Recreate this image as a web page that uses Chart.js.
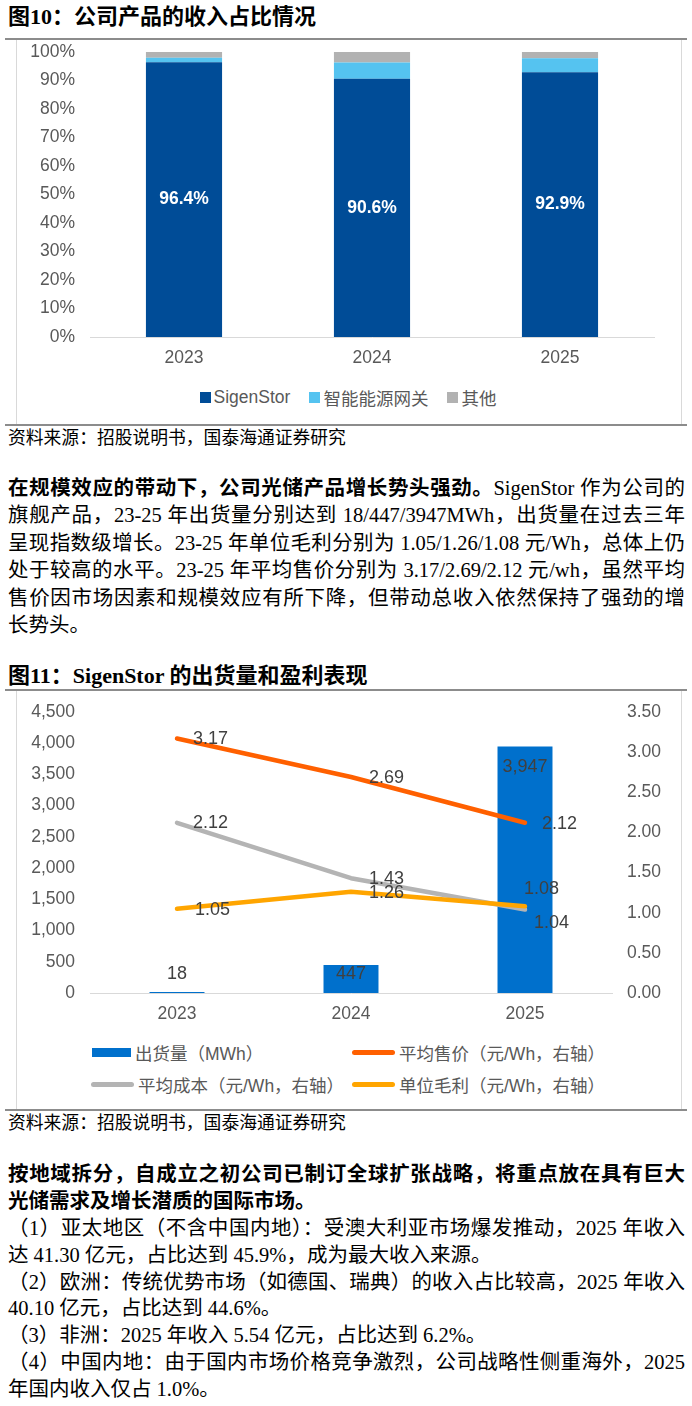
<!DOCTYPE html>
<html>
<head>
<meta charset="utf-8">
<script src="https://cdn.jsdelivr.net/npm/chart.js@4.4.0/dist/chart.umd.min.js"></script>
<style>
  body { margin: 0; background: #fff; width: 692px; height: 1406px; position: relative; overflow: hidden;
         font-family: "Liberation Serif", "Noto Sans CJK SC", serif; color: #000; }
  .abs { position: absolute; }
  .title { left: 8px; font-weight: bold; font-size: 22px; line-height: 24px; white-space: nowrap; }
  .hr { left: 5px; width: 682px; height: 2px; background: #8c8c8c; }
  .side { width: 1px; background: #d9d9d9; }
  .src { left: 8px; font-size: 17.8px; line-height: 20px; white-space: nowrap; }
  .para { left: 8px; width: 677px; }
  .para div { font-size: 20.5px; white-space: nowrap; text-align: justify; text-align-last: justify; }
  .para div.last { text-align: left; text-align-last: left; }
  .para1 div { height: 27.4px; line-height: 27.4px; }
  .para2 div { height: 26.9px; line-height: 26.9px; }
  .legend { font-family: "Liberation Sans", "Noto Sans CJK SC", sans-serif; font-size: 17.5px; color: #595959; }
  .lg1 { left: 16px; width: 664px; top: 386px; height: 22px; display: flex; justify-content: center; align-items: center; }
  .lg1 .box { width: 11px; height: 11px; margin-right: 3px; }
  .lg1 .txt { margin-right: 19px; }
  .lg2 { display: flex; align-items: center; height: 22px; }
  .lg2 .sym { margin-right: 4px; }
</style>
</head>
<body>

<div class="abs title" style="top:5px">图10：公司产品的收入占比情况</div>
<div class="abs hr" style="top:38px"></div>
<div class="abs side" style="left:16px;top:40px;height:385px"></div>
<div class="abs side" style="left:681px;top:40px;height:385px"></div>
<canvas id="shareChart" class="abs" style="left:16px;top:41px" width="665" height="331"></canvas>
<div class="abs legend lg1">
  <span class="box" style="background:#004C97"></span><span class="txt">SigenStor</span>
  <span class="box" style="background:#55C3F0"></span><span class="txt">智能能源网关</span>
  <span class="box" style="background:#B2B2B2"></span><span class="txt" style="margin-right:0">其他</span>
</div>
<div class="abs hr" style="top:424px"></div>
<div class="abs src" style="top:428px">资料来源：招股说明书，国泰海通证券研究</div>

<div class="abs para para1" style="top:475px">
  <div><b>在规模效应的带动下，公司光储产品增长势头强劲。</b>SigenStor 作为公司的</div>
  <div>旗舰产品，23-25 年出货量分别达到 18/447/3947MWh，出货量在过去三年</div>
  <div>呈现指数级增长。23-25 年单位毛利分别为 1.05/1.26/1.08 元/Wh，总体上仍</div>
  <div>处于较高的水平。23-25 年平均售价分别为 3.17/2.69/2.12 元/wh，虽然平均</div>
  <div>售价因市场因素和规模效应有所下降，但带动总收入依然保持了强劲的增</div>
  <div class="last">长势头。</div>
</div>

<div class="abs title" style="top:664px">图11：SigenStor 的出货量和盈利表现</div>
<div class="abs hr" style="top:689px"></div>
<div class="abs side" style="left:16px;top:691px;height:419px"></div>
<div class="abs side" style="left:681px;top:691px;height:419px"></div>
<canvas id="shipChart" class="abs" style="left:16px;top:691px" width="665" height="337"></canvas>
<div class="abs legend lg2" style="left:92px;top:1041px">
  <span class="sym" style="width:39px;height:9px;background:#0070CC"></span><span>出货量（MWh）</span>
</div>
<div class="abs legend lg2" style="left:352px;top:1041px">
  <span class="sym" style="width:43px;height:5px;border-radius:3px;background:#FF6000"></span><span>平均售价（元/Wh，右轴）</span>
</div>
<div class="abs legend lg2" style="left:91px;top:1073px">
  <span class="sym" style="width:43px;height:5px;border-radius:3px;background:#B4B4B4"></span><span>平均成本（元/Wh，右轴）</span>
</div>
<div class="abs legend lg2" style="left:352px;top:1073px">
  <span class="sym" style="width:43px;height:5px;border-radius:3px;background:#FFA500"></span><span>单位毛利（元/Wh，右轴）</span>
</div>
<div class="abs hr" style="top:1109px"></div>
<div class="abs src" style="top:1113px">资料来源：招股说明书，国泰海通证券研究</div>

<div class="abs para para2" style="top:1161px">
  <div><b>按地域拆分，自成立之初公司已制订全球扩张战略，将重点放在具有巨大</b></div>
  <div class="last"><b>光储需求及增长潜质的国际市场。</b></div>
  <div>（1）亚太地区（不含中国内地）：受澳大利亚市场爆发推动，2025 年收入</div>
  <div class="last">达 41.30 亿元，占比达到 45.9%，成为最大收入来源。</div>
  <div>（2）欧洲：传统优势市场（如德国、瑞典）的收入占比较高，2025 年收入</div>
  <div class="last">40.10 亿元，占比达到 44.6%。</div>
  <div class="last">（3）非洲：2025 年收入 5.54 亿元，占比达到 6.2%。</div>
  <div>（4）中国内地：由于国内市场价格竞争激烈，公司战略性侧重海外，2025</div>
  <div class="last">年国内收入仅占 1.0%。</div>
</div>

<script>
// chart 1: revenue share by product
const years = ['2023', '2024', '2025'];
const sigenStorShare = [96.4, 90.6, 92.9];
const gatewayShare = [1.6, 5.7, 4.9];
const otherShare = [2.0, 3.7, 2.2];

// chart 2: SigenStor shipments and unit economics
const shipments = [18, 447, 3947];
const avgPrice = [3.17, 2.69, 2.12];
const avgCost = [2.12, 1.43, 1.04];
const unitMargin = [1.05, 1.26, 1.08];

Chart.defaults.font.family = '"Liberation Sans", "Noto Sans CJK SC", Arial, sans-serif';
Chart.defaults.font.size = 17.5;
Chart.defaults.color = '#595959';
Chart.defaults.animation = false;

// fixed axis size, and don't let the tick padding push the plot top down
const fixWidth = w => s => { s.width = w; s.paddingTop = 10; s.paddingBottom = 10; };
const fixHeight = h => s => { s.height = h; };

const shareLabels = {
  id: 'shareLabels',
  afterDatasetsDraw(chart) {
    const ctx = chart.ctx;
    const meta = chart.getDatasetMeta(0);
    ctx.save();
    ctx.font = 'bold 17.5px "Liberation Sans", Arial';
    ctx.fillStyle = '#fff';
    ctx.textAlign = 'center';
    ctx.textBaseline = 'middle';
    meta.data.forEach((bar, i) => {
      ctx.fillText(sigenStorShare[i].toFixed(1) + '%', bar.x, (bar.y + bar.base) / 2);
    });
    ctx.restore();
  }
};

new Chart(document.getElementById('shareChart'), {
  type: 'bar',
  data: {
    labels: years,
    datasets: [
      { label: 'SigenStor', data: sigenStorShare, backgroundColor: '#004C97' },
      { label: '智能能源网关', data: gatewayShare, backgroundColor: '#55C3F0' },
      { label: '其他', data: otherShare, backgroundColor: '#B2B2B2' }
    ]
  },
  options: {
    responsive: false,
    layout: { padding: { top: 11, right: 27, left: 0, bottom: 0 } },
    plugins: { legend: { display: false }, tooltip: { enabled: false } },
    datasets: { bar: { categoryPercentage: 1, barPercentage: 0.405 } },
    scales: {
      x: {
        stacked: true,
        grid: { display: false, drawTicks: false },
        border: { color: '#D9D9D9', width: 1 },
        ticks: { padding: 11 },
        afterFit: fixHeight(35)
      },
      y: {
        stacked: true, min: 0, max: 100,
        grid: { display: false, drawTicks: false },
        border: { display: false },
        ticks: { stepSize: 10, padding: 15, callback: v => v + '%' },
        afterFit: fixWidth(74)
      }
    }
  },
  plugins: [shareLabels]
});

// offsets of the value labels from their points: [dx, dy]
const pointLabels = {
  id: 'pointLabels',
  afterDatasetsDraw(chart) {
    const ctx = chart.ctx;
    ctx.save();
    ctx.font = '18px "Liberation Sans", Arial';
    ctx.fillStyle = '#404040';
    ctx.textBaseline = 'middle';
    chart.data.datasets.forEach((ds, di) => {
      const meta = chart.getDatasetMeta(di);
      meta.data.forEach((el, i) => {
        const [dx, dy] = ds.labelOffsets[i];
        const txt = ds.type === 'line' ? ds.data[i].toFixed(2) : ds.data[i].toLocaleString('en-US');
        ctx.textAlign = ds.type === 'line' ? 'left' : 'center';
        ctx.fillText(txt, el.x + dx, el.y + dy);
      });
    });
    ctx.restore();
  }
};

new Chart(document.getElementById('shipChart'), {
  type: 'bar',
  data: {
    labels: years,
    datasets: [
      { type: 'bar', label: '出货量（MWh）', data: shipments, backgroundColor: '#0070CC', yAxisID: 'y', order: 4,
        categoryPercentage: 1, barPercentage: 0.316, labelOffsets: [[0, -18], [0, 9], [0, 20]] },
      { type: 'line', label: '平均售价（元/Wh，右轴）', data: avgPrice, borderColor: '#FF6000', yAxisID: 'y1', order: 3,
        labelOffsets: [[16, 1], [18, 1], [17, 1]] },
      { type: 'line', label: '平均成本（元/Wh，右轴）', data: avgCost, borderColor: '#B4B4B4', yAxisID: 'y1', order: 2,
        labelOffsets: [[16, 0], [18, 1], [9, 14]] },
      { type: 'line', label: '单位毛利（元/Wh，右轴）', data: unitMargin, borderColor: '#FFA500', yAxisID: 'y1', order: 1,
        labelOffsets: [[18, 1], [18, 1], [-1, -17]] }
    ]
  },
  options: {
    responsive: false,
    layout: { padding: { top: 21, right: 0, left: 0, bottom: 0 } },
    plugins: { legend: { display: false }, tooltip: { enabled: false } },
    datasets: { line: { borderWidth: 4.5, pointRadius: 0, tension: 0, borderCapStyle: 'round', borderJoinStyle: 'round' } },
    scales: {
      x: {
        grid: { display: false, drawTicks: false },
        border: { color: '#D9D9D9', width: 1 },
        ticks: { padding: 11 },
        afterFit: fixHeight(35)
      },
      y: {
        position: 'left', min: 0, max: 4500,
        grid: { display: false, drawTicks: false },
        border: { display: false },
        ticks: { stepSize: 500, padding: 15, callback: v => v.toLocaleString('en-US') },
        afterFit: fixWidth(74)
      },
      y1: {
        position: 'right', min: 0, max: 3.5,
        grid: { display: false, drawTicks: false },
        border: { display: false },
        ticks: { stepSize: 0.5, padding: 15, callback: v => v.toFixed(2) },
        afterFit: fixWidth(69)
      }
    }
  },
  plugins: [pointLabels]
});
</script>
</body>
</html>
